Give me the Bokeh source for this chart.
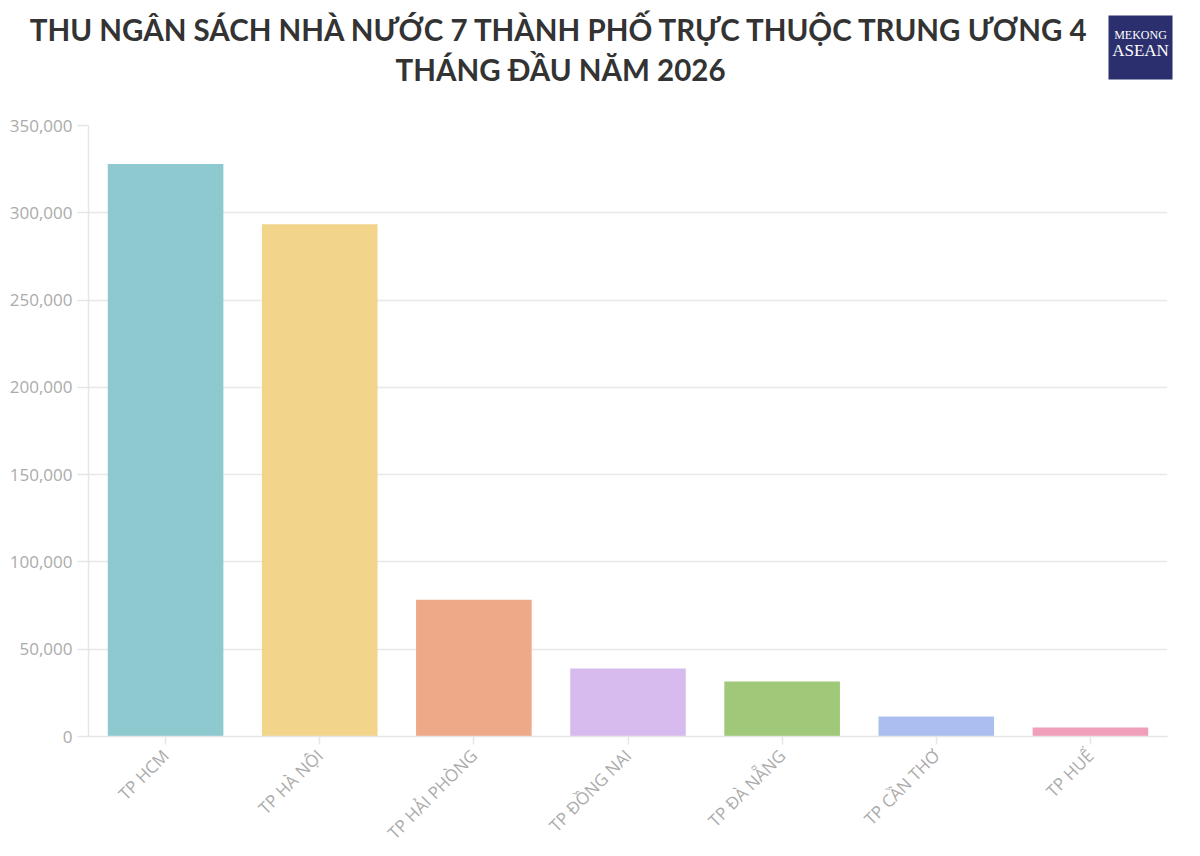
from bokeh.plotting import figure
from bokeh.layouts import column
from bokeh.models import (Range1d, FactorRange, FixedTicker, NumeralTickFormatter,
                          Label, BoxAnnotation, ColumnDataSource)
from bokeh.embed import file_html
from bokeh.resources import INLINE
import math

# ---- data ----
cities = ["TP HCM", "TP HÀ NỘI", "TP HẢI PHÒNG", "TP ĐỒNG NAI", "TP ĐÀ NẴNG", "TP CẦN THƠ", "TP HUẾ"]
revenue = [328000, 293500, 78300, 38900, 31500, 11400, 5100]
colors = ["#8DC9CF", "#F2D48B", "#EEAA88", "#D8BBEE", "#A0C879", "#AABFF0", "#F09FBA"]
y_ticks = [0, 50000, 100000, 150000, 200000, 250000, 300000, 350000]
title_lines = ["THU NGÂN SÁCH NHÀ NƯỚC 7 THÀNH PHỐ TRỰC THUỘC TRUNG ƯƠNG 4",
               "THÁNG ĐẦU NĂM 2026"]

HEADER_H = 95

# ---- header (title + logo) ----
header = figure(width=1200, height=HEADER_H, output_backend="svg", toolbar_location=None,
                x_range=Range1d(0, 1200), y_range=Range1d(HEADER_H, 0),
                x_axis_location=None, y_axis_location=None, min_border=0,
                frame_align=False)
header.outline_line_color = None
header.xgrid.visible = False
header.ygrid.visible = False
header.background_fill_color = "white"
header.border_fill_color = "white"

for txt, yy in zip(title_lines, [29, 69]):
    header.add_layout(Label(x=560, y=yy, text=txt,
                            text_align="center", text_baseline="alphabetic",
                            text_font="Lato", text_font_style="bold", text_font_size="29.5px",
                            text_color="#333333"))

header.add_layout(BoxAnnotation(left=1108, right=1172, top=15, bottom=79,
                                fill_color="#2B2F6E", fill_alpha=1.0, line_color=None))
header.add_layout(Label(x=1140, y=34, text="MEKONG",
                        text_align="center", text_baseline="alphabetic",
                        text_font="Liberation Serif", text_font_size="12px", text_color="white"))
header.add_layout(Label(x=1140, y=50, text="ASEAN",
                        text_align="center", text_baseline="alphabetic",
                        text_font="Liberation Serif", text_font_size="17px", text_color="white"))

# ---- main chart ----
src = ColumnDataSource(dict(city=cities, rev=revenue, color=colors))

p = figure(width=1200, height=856 - HEADER_H, output_backend="svg", toolbar_location=None,
           x_range=FactorRange(*cities, range_padding=0), y_range=Range1d(0, 350000),
           min_border_left=88, min_border_right=33, min_border_top=125 - HEADER_H,
           min_border_bottom=120, frame_align=False)

p.vbar(x="city", top="rev", width=0.75, fill_color="color", line_color=None, source=src)

p.outline_line_color = None
p.background_fill_color = "white"
p.border_fill_color = "white"
p.xgrid.grid_line_color = None
p.ygrid.grid_line_color = "#e8e8e8"
p.ygrid.grid_line_width = 1.5

p.yaxis.ticker = FixedTicker(ticks=y_ticks)
p.yaxis.formatter = NumeralTickFormatter(format="0,0")
p.yaxis.minor_tick_line_color = None
p.yaxis.major_tick_out = 11
p.yaxis.major_tick_in = 0
p.yaxis.axis_line_color = "#e6e6e6"
p.yaxis.axis_line_width = 1.5
p.yaxis.major_tick_line_color = "#e6e6e6"
p.yaxis.major_tick_line_width = 1.5
p.yaxis.major_label_text_font = "Open Sans"
p.yaxis.major_label_text_font_size = "17px"
p.yaxis.major_label_text_color = "#ababab"
p.yaxis.major_label_standoff = 5

p.xaxis.axis_line_color = "#e6e6e6"
p.xaxis.axis_line_width = 1.5
p.xaxis.major_tick_line_color = "#e6e6e6"
p.xaxis.major_tick_line_width = 1.5
p.xaxis.major_tick_out = 8
p.xaxis.major_tick_in = 0
p.xaxis.major_label_orientation = math.pi / 4
p.xaxis.major_label_text_font = "Open Sans"
p.xaxis.major_label_text_font_size = "17px"
p.xaxis.major_label_text_color = "#ababab"
p.xaxis.major_label_standoff = 8

layout = column(header, p, spacing=0)
open("out.html", "w").write(file_html(layout, INLINE))
